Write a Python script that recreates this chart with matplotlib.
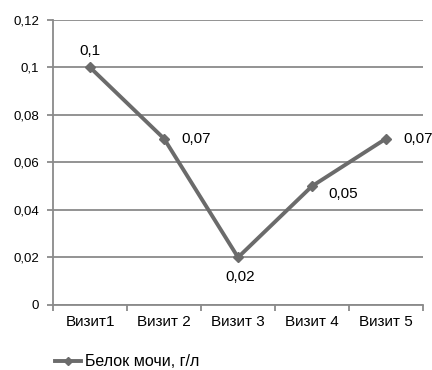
import matplotlib
matplotlib.use('Agg')
import matplotlib.pyplot as plt
from matplotlib.ticker import FuncFormatter

plt.rcParams['font.family'] = ['Liberation Sans', 'DejaVu Sans']

# data
visits = ['Визит1', 'Визит 2', 'Визит 3', 'Визит 4', 'Визит 5']
protein = [0.1, 0.07, 0.02, 0.05, 0.07]
labels = ['0,1', '0,07', '0,02', '0,05', '0,07']
yticks = [0, 0.02, 0.04, 0.06, 0.08, 0.1, 0.12]

fig = plt.figure(figsize=(4.32, 3.70), dpi=100)
ax = fig.add_axes([0.123, 0.176, 0.856, 0.770])

gray = '#6b6b6b'
x = list(range(len(visits)))
line, = ax.plot(x, protein, color=gray, lw=2.8, marker='D', ms=5.5, label='Белок мочи, г/л', zorder=3)

# data labels (offsets in pixels)
offsets = [(0, 16, 'center', 'center'), (17, 0, 'left', 'center'), (2, -20, 'center', 'center'),
           (16, -8, 'left', 'center'), (17, 0, 'left', 'center')]
for xi, yi, lab, (dx, dy, ha, va) in zip(x, protein, labels, offsets):
    ax.annotate(lab, (xi, yi), xytext=(dx, dy), textcoords='offset pixels',
                ha=ha, va=va, fontsize=11)

ax.set_xlim(-0.5, 4.5)
ax.set_ylim(0, 0.12)
ax.set_yticks(yticks)
ax.yaxis.set_major_formatter(FuncFormatter(lambda v, p: ('%g' % round(v, 2)).replace('.', ',')))
ax.grid(axis='y', color='#8a8a8a', lw=1.3)
ax.set_axisbelow(True)

ax.set_xticks(x)
ax.set_xticklabels(visits, fontsize=11)
ax.tick_params(axis='x', which='major', length=0, pad=7)
ax.set_xticks([i + 0.5 for i in range(-1, 5)], minor=True)
ax.tick_params(axis='x', which='minor', length=4, color='#8a8a8a', width=1.3)
ax.tick_params(axis='y', length=4, color='#8a8a8a', width=1.3, labelsize=9.5, pad=6)

for s in ['top', 'right']:
    ax.spines[s].set_visible(False)
for s in ['left', 'bottom']:
    ax.spines[s].set_color('#8a8a8a')
    ax.spines[s].set_linewidth(1.3)

fig.legend(handles=[line], loc='center left', bbox_to_anchor=(0.095, 0.022), frameon=False,
           fontsize=11.5, handlelength=1.6, handletextpad=0.25, markerscale=0.8)

fig.savefig('out.png', dpi=100)
